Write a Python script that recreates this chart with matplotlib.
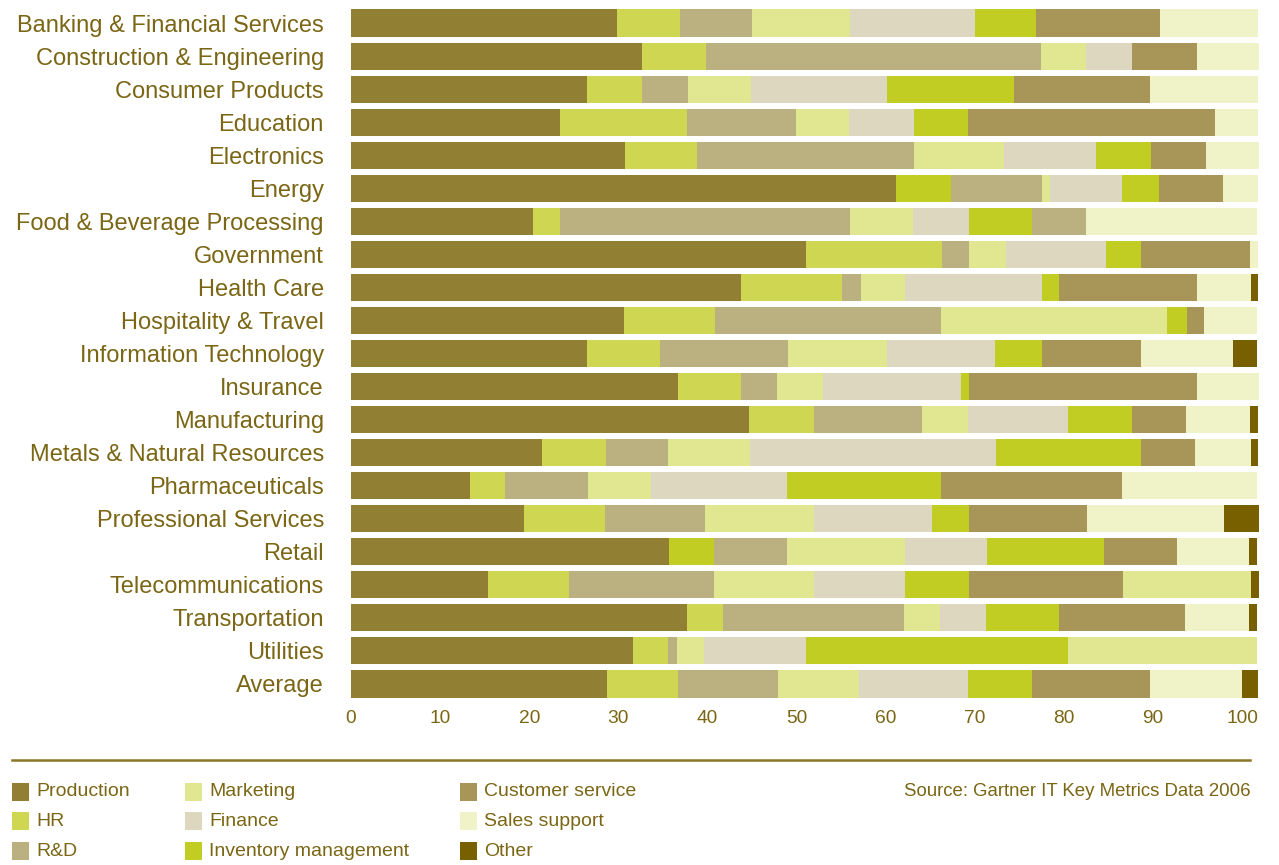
import numpy as np
import matplotlib.pyplot as plt
from matplotlib.patches import Rectangle

plt.rcParams['font.family'] = ['Liberation Sans', 'DejaVu Sans']

categories = [
    'Banking & Financial Services', 'Construction & Engineering', 'Consumer Products',
    'Education', 'Electronics', 'Energy', 'Food & Beverage Processing', 'Government',
    'Health Care', 'Hospitality & Travel', 'Information Technology', 'Insurance',
    'Manufacturing', 'Metals & Natural Resources', 'Pharmaceuticals',
    'Professional Services', 'Retail', 'Telecommunications', 'Transportation',
    'Utilities', 'Average',
]

production = [29.8, 32.7, 26.5, 23.5, 30.8, 61.2, 20.4, 51.0, 43.8, 30.6, 26.5,
              36.7, 44.7, 21.4, 13.3, 19.4, 35.7, 15.4, 37.7, 31.6, 28.7]
hr = [7.1, 7.1, 6.1, 14.2, 8.0, 6.1, 3.1, 15.3, 11.3, 10.2, 8.2,
      7.1, 7.2, 7.2, 4.0, 9.1, 5.0, 9.1, 4.0, 4.0, 8.0]
rnd = [8.1, 37.6, 5.2, 12.2, 24.4, 10.2, 32.5, 3.0, 2.1, 25.4, 14.3,
       4.0, 12.2, 7.0, 9.3, 11.2, 8.2, 16.2, 20.4, 1.0, 11.2]
marketing = [11.0, 5.1, 7.1, 6.0, 10.1, 0.9, 7.1, 4.2, 5.0, 25.4, 11.1,
             5.2, 5.1, 9.2, 7.1, 12.3, 13.3, 11.3, 4.0, 3.0, 9.1]
finance = [14.0, 5.1, 15.2, 7.3, 10.3, 8.1, 6.3, 11.2, 15.3, 0.0, 12.2,
           15.4, 11.3, 27.6, 15.2, 13.2, 9.2, 10.2, 5.2, 11.4, 12.2]
inventory = [6.9, 0.0, 14.3, 6.0, 6.2, 4.2, 7.0, 4.0, 2.0, 2.2, 5.2,
             1.0, 7.1, 16.3, 17.3, 4.1, 13.1, 7.1, 8.1, 29.5, 7.2]
customer = [13.9, 7.3, 15.3, 27.7, 6.1, 7.2, 6.1, 12.2, 15.4, 1.9, 11.2,
            25.5, 6.1, 6.0, 20.3, 13.3, 8.2, 17.3, 14.2, 0.0, 13.3]
sales = [11.0, 7.0, 12.1, 4.9, 6.0, 3.9, 19.2, 0.9, 6.1, 6.0, 10.3,
         7.0, 7.2, 6.3, 15.2, 15.4, 8.1, 14.4, 7.2, 21.2, 10.3]
other = [0.0, 0.0, 0.0, 0.0, 0.0, 0.0, 0.0, 0.0, 0.8, 0.0, 2.7,
         0.0, 0.9, 0.8, 0.0, 3.9, 0.9, 0.9, 0.9, 0.0, 1.8]

series = ['Production', 'HR', 'R&D', 'Marketing', 'Finance',
          'Inventory management', 'Customer service', 'Sales support', 'Other']
values = [production, hr, rnd, marketing, finance, inventory, customer, sales, other]
colors = ['#917f33', '#cfd752', '#bbb080', '#e1e690', '#ddd7c0',
          '#c1cd23', '#a89659', '#f0f2c8', '#786000']

# a few segments in the printed chart use another series' shade
color_fix = {
    ('Energy', 'HR'): '#c1cd23',
    ('Retail', 'HR'): '#c1cd23',
    ('Food & Beverage Processing', 'Customer service'): '#bbb080',
    ('Telecommunications', 'Sales support'): '#e1e690',
    ('Utilities', 'Sales support'): '#e1e690',
}

text_color = '#7a6614'

fig = plt.figure(figsize=(12.79, 8.65), dpi=100)
ax = fig.add_axes([351 / 1279, 1 - 700.5 / 865, 909 / 1279, 694 / 865])

y = np.arange(len(categories))
left = np.zeros(len(categories))
for name, vals, col in zip(series, values, colors):
    vals = np.array(vals)
    cell_colors = [color_fix.get((cat, name), col) for cat in categories]
    ax.barh(y, vals, left=left, height=0.82, color=cell_colors, linewidth=0)
    left += vals

ax.set_ylim(len(categories) - 0.5, -0.5)
ax.set_xlim(0, 102)
ax.set_xticks(np.arange(0, 101, 10))
ax.set_yticks(y)
ax.set_yticklabels(categories)
ax.tick_params(axis='y', length=0, pad=19.5, labelsize=17.0, labelcolor=text_color)
ax.tick_params(axis='x', length=0, pad=7, labelsize=13.8, labelcolor=text_color)
for lbl in ax.get_yticklabels():
    lbl.set_va('center_baseline')
for s in ax.spines.values():
    s.set_visible(False)

# rule under the chart
fig.add_artist(plt.Line2D([12 / 1279, 1250 / 1279], [1 - 760 / 865] * 2,
                          color='#8a7626', linewidth=1.8))

# legend, three columns
col_x = [12, 185, 460]
row_y = [792, 821, 851]
for i, (name, col) in enumerate(zip(series, colors)):
    px = col_x[i // 3]
    py = row_y[i % 3]
    fig.add_artist(Rectangle((px / 1279, 1 - (py + 9) / 865), 17 / 1279, 18 / 865,
                             transform=fig.transFigure, color=col, linewidth=0))
    fig.text((px + 24) / 1279, 1 - py / 865, name, fontsize=14.0, color=text_color,
             ha='left', va='center')

fig.text(1251 / 1279, 1 - 792 / 865, 'Source: Gartner IT Key Metrics Data 2006',
         fontsize=13.4, color=text_color, ha='right', va='center')

fig.savefig('out.png', dpi=100)
